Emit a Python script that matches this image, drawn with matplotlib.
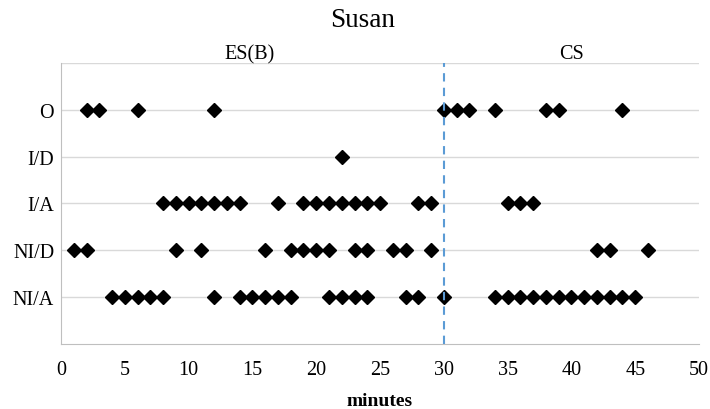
import matplotlib.pyplot as plt

plt.rcParams["font.family"] = ["Liberation Serif", "DejaVu Serif"]

categories = ["NI/A", "NI/D", "I/A", "I/D", "O"]

o_minutes = [2, 3, 6, 12, 30, 31, 32, 34, 38, 39, 44]
id_minutes = [22]
ia_minutes = [8, 9, 10, 11, 12, 13, 14, 17, 19, 20, 21, 22, 23, 24, 25, 28, 29,
              35, 36, 37]
nid_minutes = [1, 2, 9, 11, 16, 18, 19, 20, 21, 23, 24, 26, 27, 29, 42, 43, 46]
nia_minutes = [4, 5, 6, 7, 8, 12, 14, 15, 16, 17, 18, 21, 22, 23, 24, 27, 28, 30,
               34, 35, 36, 37, 38, 39, 40, 41, 42, 43, 44, 45]

series = [nia_minutes, nid_minutes, ia_minutes, id_minutes, o_minutes]
phase_split = 30
phase_labels = [("ES(B)", 14.8), ("CS", 40.0)]

fig = plt.figure(figsize=(7.1, 4.1), dpi=100)
ax = fig.add_axes([0.086, 0.159, 0.8985, 0.685])

for level, minutes in enumerate(series, start=1):
    ax.plot(minutes, [level] * len(minutes), linestyle="none", marker="D",
            markersize=7.5, color="black", zorder=3)

ax.axvline(phase_split, color="#5b9bd5", linestyle=(0, (4, 3)), linewidth=1.5, zorder=4)

for label, xpos in phase_labels:
    ax.text(xpos, 6.2, label, ha="center", va="center", fontsize=14.5)

ax.set_xlim(0, 50)
ax.set_ylim(0, 6)
ax.set_xticks(range(0, 51, 5))
ax.set_yticks(range(1, 7))
ax.set_yticklabels(categories + [""])
ax.tick_params(length=0, labelsize=14.5)
ax.tick_params(axis="x", pad=12)
ax.tick_params(axis="y", pad=5)
ax.grid(axis="y", color="#d9d9d9", linewidth=1)
ax.set_axisbelow(True)
for side in ["top", "right"]:
    ax.spines[side].set_visible(False)
for side in ["left", "bottom"]:
    ax.spines[side].set_color("#bfbfbf")

ax.set_xlabel("minutes", fontsize=14, fontweight="bold", labelpad=9)
fig.text(0.511, 0.951, "Susan", ha="center", va="center", fontsize=19.5)

fig.savefig("out.png", dpi=100)
